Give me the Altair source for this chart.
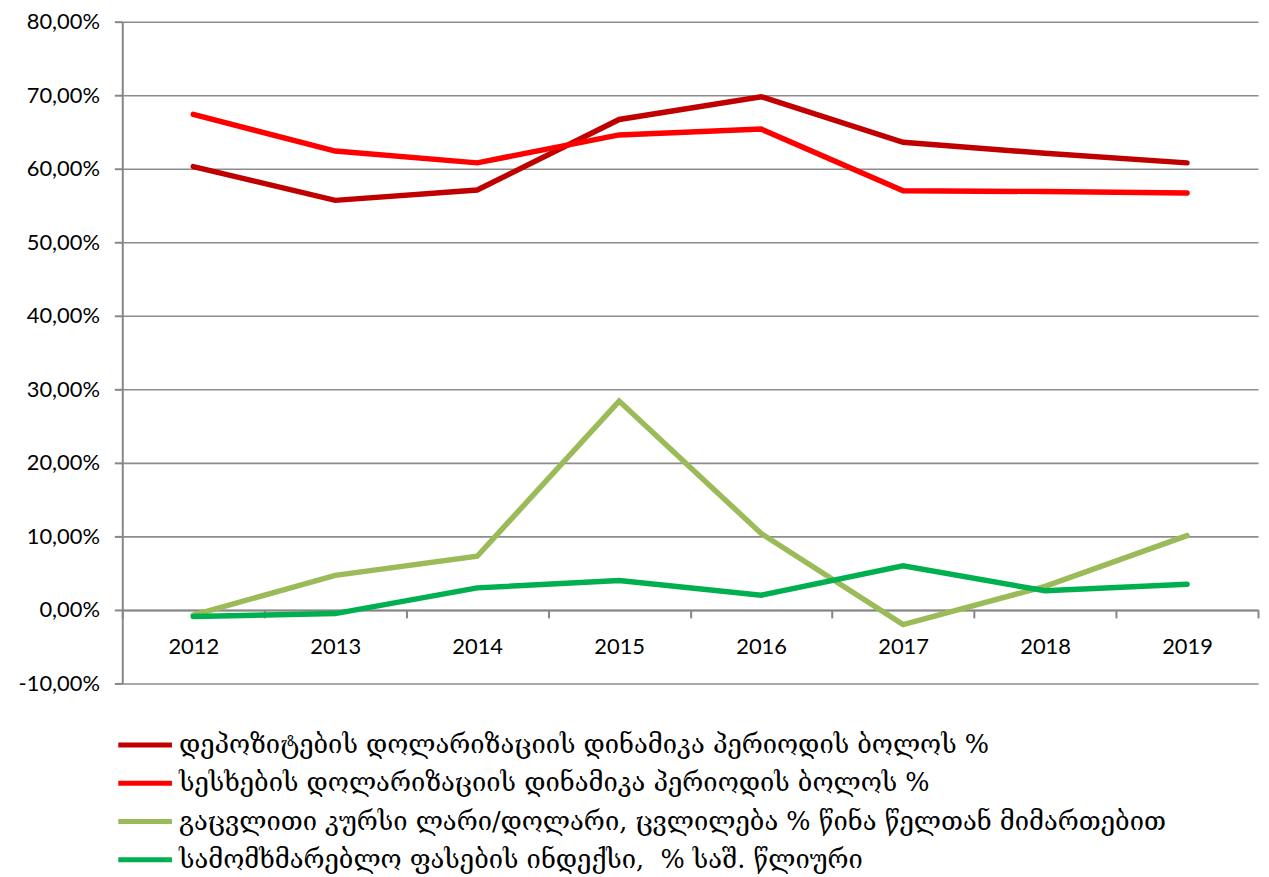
import altair as alt
import pandas as pd

years = ["2012", "2013", "2014", "2015", "2016", "2017", "2018", "2019"]
series_names = [
    "დეპოზიტების დოლარიზაციის დინამიკა პერიოდის ბოლოს %",
    "სესხების დოლარიზაციის დინამიკა პერიოდის ბოლოს %",
    "გაცვლითი კურსი ლარი/დოლარი, ცვლილება % წინა წელთან მიმართებით",
    "სამომხმარებლო ფასების ინდექსი,\u00a0\u00a0% საშ. წლიური",
]
deposits = [0.603, 0.557, 0.571, 0.667, 0.698, 0.636, 0.621, 0.608]
loans = [0.674, 0.624, 0.608, 0.646, 0.654, 0.570, 0.569, 0.567]
exchange = [-0.007, 0.047, 0.073, 0.284, 0.104, -0.020, 0.032, 0.101]
cpi = [-0.009, -0.005, 0.030, 0.040, 0.020, 0.060, 0.026, 0.035]
colors = ["#C00000", "#FF0000", "#9BBB59", "#00B050"]

rows = []
for name, vals in zip(series_names, [deposits, loans, exchange, cpi]):
    for i, (y, v) in enumerate(zip(years, vals)):
        rows.append({"year": y, "value": v, "series": name, "order": i})
df = pd.DataFrame(rows)

chart = alt.Chart(df).mark_line(strokeWidth=5.5, strokeCap="round", strokeJoin="miter").encode(
    x=alt.X(
        "year:O",
        sort=years,
        bandPosition=0.5,
        scale=alt.Scale(type="band", paddingInner=0, paddingOuter=0),
        axis=alt.Axis(
            title=None,
            labelAngle=0,
            offset=-74,
            tickBand="extent",
            tickSize=8,
            tickColor="#868686",
            tickWidth=2,
            domainColor="#868686",
            domainWidth=2,
            labelFont="Lato",
            labelFontSize=22,
            labelColor="#000000",
            labelPadding=19,
            grid=False,
        ),
    ),
    y=alt.Y(
        "value:Q",
        scale=alt.Scale(domain=[-0.1, 0.8], nice=False, zero=False),
        axis=alt.Axis(
            title=None,
            values=[-0.1, 0, 0.1, 0.2, 0.3, 0.4, 0.5, 0.6, 0.7, 0.8],
            labelExpr="replace(replace(format(datum.value, '.2%'), '.', ','), '\u2212', '-')",
            labelFont="Lato",
            labelFontSize=22,
            labelColor="#000000",
            labelPadding=15,
            tickSize=8,
            tickColor="#868686",
            tickWidth=2,
            domainColor="#868686",
            domainWidth=2,
            gridColor="#8C8C8C",
            gridWidth=1.6,
        ),
    ),
    color=alt.Color(
        "series:N",
        sort=series_names,
        scale=alt.Scale(domain=series_names, range=colors),
        legend=alt.Legend(
            title=None,
            orient="none",
            legendX=-20,
            legendY=712,
            direction="vertical",
            symbolType="M-2,0H2",
            symbolSize=729,
            symbolOffset=27,
            symbolStrokeWidth=5,
            labelFont="DejaVu Serif",
            labelFontSize=25.7,
            labelColor="#000000",
            labelLimit=1200,
            rowPadding=9.5,
            labelOffset=18,
        ),
    ),
    order="order:Q",
).properties(
    width=1143,
    height=666,
    padding={"left": 115, "top": 11, "right": 3, "bottom": 190},
    autosize=alt.AutoSizeParams(type="none"),
).configure_view(stroke=None)

chart.save("out.html", embed_options={"renderer": "svg", "actions": False})
